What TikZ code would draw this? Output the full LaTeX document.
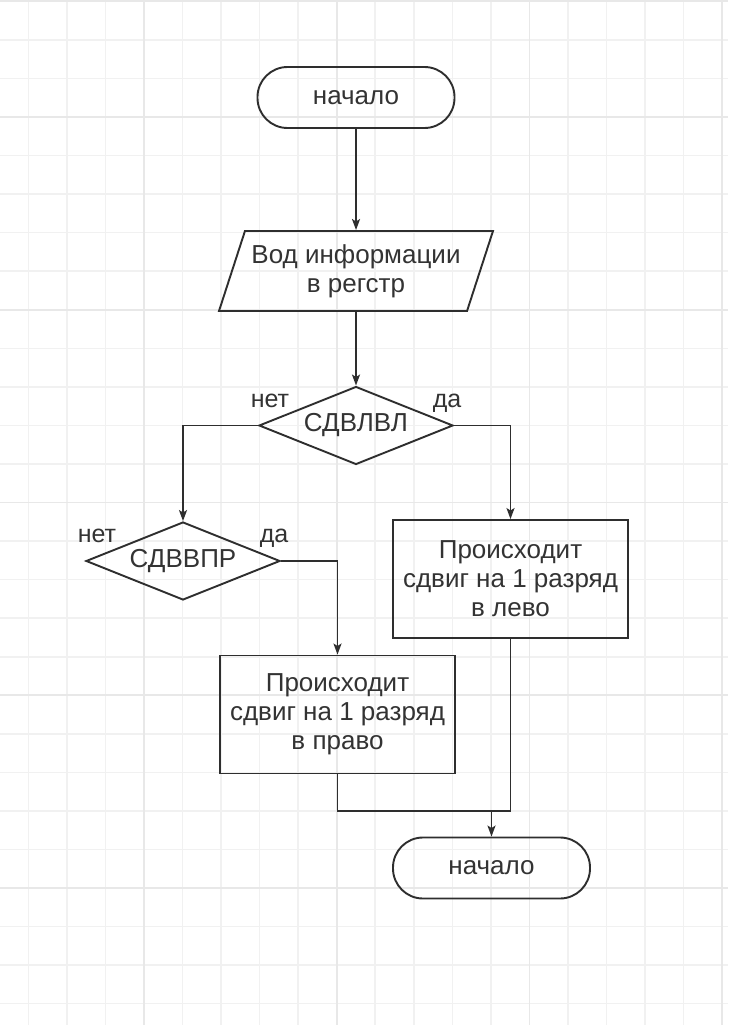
\documentclass[tikz,border=0pt]{standalone}
\usepackage{fontspec}
\setmainfont{Liberation Sans}
\usepackage{tikz}
\usetikzlibrary{shapes.geometric,arrows.meta,positioning}
\definecolor{fcLine}{HTML}{2E2E2E}
\definecolor{fcText}{HTML}{333333}
\definecolor{fcGrid}{HTML}{F1F1F1}
\definecolor{fcGridMajor}{HTML}{E8E8E8}

\begin{document}
\begin{tikzpicture}[x=1pt,y=-1pt,font=\fontsize{26}{29}\selectfont,
    terminal/.style={draw=fcLine, line width=1.9pt, text=fcText, rounded corners=30pt, minimum width=197pt, minimum height=61pt},
    inputbox/.style={draw=fcLine, line width=1.9pt, text=fcText, trapezium, trapezium left angle=64, trapezium right angle=116, trapezium stretches body, minimum width=274pt, minimum height=80pt, inner sep=0pt, align=center},
    decision/.style={draw=fcLine, line width=1.9pt, text=fcText, diamond, aspect=2.5, minimum width=194pt, minimum height=78pt, inner sep=0pt},
    process/.style={draw=fcLine, line width=1.9pt, text=fcText, rectangle, minimum width=235pt, minimum height=118pt, align=center},
    branch/.style={text=fcText, font=\fontsize{25}{28}\selectfont, anchor=base},
    flow/.style={draw=fcLine, line width=1.8pt, -{Stealth[length=11pt,width=8pt,inset=2.5pt]}},
    joinline/.style={draw=fcLine, line width=1.8pt}]
    % Background and grid
    \useasboundingbox (0,0) rectangle (728,1025);
    \fill[white] (0,0) rectangle (728,1025);
    \foreach \i in {0,...,18} \draw[fcGrid, line width=1.6pt] ({28.3+38.55*\i},0) -- ({28.3+38.55*\i},1025);
    \foreach \j in {0,...,26} \draw[fcGrid, line width=1.6pt] (0,{1.35+38.55*\j}) -- (728,{1.35+38.55*\j});
    \foreach \i in {3,8,13,18} \draw[fcGridMajor, line width=1.8pt] ({28.3+38.55*\i},0) -- ({28.3+38.55*\i},1025);
    \foreach \j in {0,3,8,13,18,23} \draw[fcGridMajor, line width=1.8pt] (0,{1.35+38.55*\j}) -- (728,{1.35+38.55*\j});

    % Start and input
    \node[terminal] at (356,97.5) (start) {начало};
    \node[inputbox] at (356,271) (input) {Вод информации\\в регстр};

    % Decisions
    \node[decision] at (356,425.5) (shiftleft) {СДВЛВЛ};
    \node[decision] at (183,561) (shiftright) {СДВВПР};
    \node[branch] at (270,407) (leftno) {нет};
    \node[branch] at (447,407) (leftyes) {да};
    \node[branch] at (97,542) (rightno) {нет};
    \node[branch] at (274,542) (rightyes) {да};

    % Shift blocks
    \node[process] at (510.5,579) (doleft) {Происходит\\сдвиг на 1 разряд\\в лево};
    \node[process] at (337.5,714.5) (doright) {Происходит\\сдвиг на 1 разряд\\в право};

    % End
    \node[terminal] at (491.5,868) (stop) {начало};
    \coordinate (merge) at (491.5,811);

    % Arrows
    \draw[flow] (start) -- (input);
    \draw[flow] (input) -- (shiftleft);
    \draw[flow] (shiftleft.west) -| (shiftright.north);
    \draw[flow] (shiftleft.east) -| (doleft.north);
    \draw[flow] (shiftright.east) -| (doright.north);
    \draw[joinline] (doleft.south) |- (merge);
    \draw[joinline] (doright.south) |- (merge);
    \draw[flow] (merge) -- (stop);
\end{tikzpicture}
\end{document}
